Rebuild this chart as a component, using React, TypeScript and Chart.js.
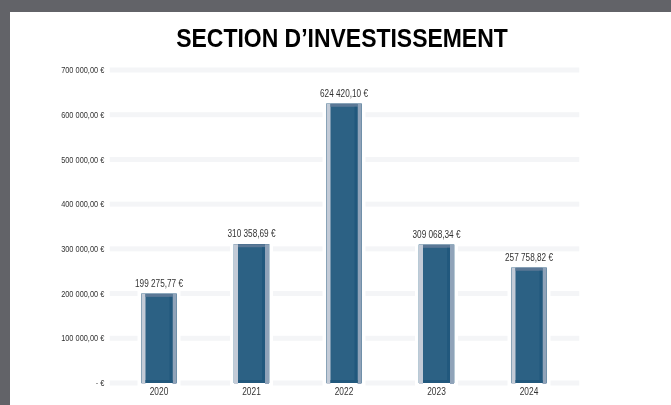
import React, { useEffect, useRef } from "react";
import { Chart, registerables } from "chart.js";

Chart.register(...registerables);

const categories = ["2020", "2021", "2022", "2023", "2024"];
const values = [199275.77, 310358.69, 624420.1, 309068.34, 257758.82];
const yMin = 0;
const yMax = 700000;
const yStep = 100000;
const titleText = "SECTION D\u2019INVESTISSEMENT";

const SANS = "'Liberation Sans', Arial, sans-serif";
const NARROW_SCALE = 0.82;

function fmtEuro(v: number): string {
  if (v === 0) return "- \u20ac";
  const [i, d] = v.toFixed(2).split(".");
  const grouped = i.replace(/\B(?=(\d{3})+(?!\d))/g, " ");
  return `${grouped},${d} \u20ac`;
}

function narrowText(
  ctx: CanvasRenderingContext2D,
  text: string,
  x: number,
  y: number,
  align: CanvasTextAlign,
  sx: number
) {
  ctx.save();
  ctx.translate(x, y);
  ctx.scale(sx, 1);
  ctx.textAlign = align;
  ctx.textBaseline = "alphabetic";
  ctx.fillText(text, 0, 0);
  ctx.restore();
}

const gridPlugin = {
  id: "gapGrid",
  beforeDatasetsDraw(chart: any) {
    const { ctx, chartArea, scales } = chart;
    const y = scales.y;
    const meta = chart.getDatasetMeta(0);
    const bars = meta.data.map((el: any) => el.getProps(["x", "y", "width", "base"], true));
    const left = chartArea.left - 3;
    const right = chartArea.right + 4;
    ctx.save();
    ctx.fillStyle = "#f4f5f7";
    for (let v = yMin; v <= yMax; v += yStep) {
      const py = y.getPixelForValue(v);
      let start = left;
      for (const b of bars) {
        if (b.y < py + 2) {
          const gl = b.x - b.width / 2 - 4;
          const gr = b.x + b.width / 2 + 4;
          if (gl > start) ctx.fillRect(start, py - 2.5, gl - start, 5);
          start = gr;
        }
      }
      if (right > start) ctx.fillRect(start, py - 2.5, right - start, 5);
    }
    ctx.restore();
  },
};

const haloPlugin = {
  id: "barHalo",
  afterDatasetsDraw(chart: any) {
    const { ctx } = chart;
    const meta = chart.getDatasetMeta(0);
    ctx.save();
    meta.data.forEach((el: any) => {
      const b = el.getProps(["x", "y", "width", "base"], true);
      const l = b.x - b.width / 2;
      const r = b.x + b.width / 2;
      const h = b.base - b.y;
      ctx.fillStyle = "#c3cbd7";
      ctx.fillRect(l, b.y, 4, h + 1);
      ctx.fillStyle = "#90a3b9";
      ctx.fillRect(r - 4, b.y, 4, h + 1);
      ctx.fillStyle = "#5b7896";
      ctx.fillRect(l + 4, b.y, b.width - 8, 3);
      ctx.fillStyle = "#21587d";
      ctx.fillRect(r - 7, b.y + 3, 3, h - 3);
      ctx.fillRect(l + 4, b.base - 3, b.width - 8, 3);
    });
    ctx.restore();
  },
};

const textPlugin = {
  id: "narrowTexts",
  afterDatasetsDraw(chart: any) {
    const { ctx, chartArea, scales } = chart;
    const x = scales.x;
    const y = scales.y;
    const meta = chart.getDatasetMeta(0);
    ctx.save();

    // title
    ctx.fillStyle = "#000000";
    ctx.font = `bold 25.5px ${SANS}`;
    narrowText(ctx, titleText, (chartArea.left + chartArea.right) / 2 - 2, 34.7, "center", 0.9);

    // y-axis labels
    ctx.fillStyle = "#333333";
    ctx.font = `9px ${SANS}`;
    for (let v = yMin; v <= yMax; v += yStep) {
      const py = y.getPixelForValue(v);
      narrowText(ctx, fmtEuro(v), chartArea.left - 8.5, py + 3.2, "right", NARROW_SCALE);
    }

    // x-axis labels
    ctx.font = `10.2px ${SANS}`;
    categories.forEach((c, i) => {
      narrowText(ctx, c, x.getPixelForValue(i), chartArea.bottom + 12, "center", NARROW_SCALE);
    });

    // value labels
    ctx.font = `10px ${SANS}`;
    meta.data.forEach((el: any, i: number) => {
      const p = el.getProps(["x", "y"], true);
      narrowText(ctx, fmtEuro(values[i]), p.x, p.y - 7, "center", NARROW_SCALE);
    });
    ctx.restore();
  },
};

export default function App() {
  const canvasRef = useRef<HTMLCanvasElement | null>(null);

  useEffect(() => {
    document.body.style.margin = "0";
    const canvas = canvasRef.current;
    if (!canvas) return;
    const chart = new Chart(canvas, {
      type: "bar",
      data: {
        labels: categories,
        datasets: [
          {
            data: values,
            backgroundColor: "#2c6184",
            borderWidth: 0,
            barThickness: 35,
          },
        ],
      },
      options: {
        responsive: false,
        animation: false,
        layout: { padding: { top: 58, left: 102.75, right: 95.75, bottom: 22 } },
        plugins: {
          legend: { display: false },
          tooltip: { enabled: false },
          title: { display: false },
        },
        scales: {
          x: { display: false },
          y: { display: false, min: yMin, max: yMax, ticks: { stepSize: yStep } },
        },
      },
      plugins: [gridPlugin, haloPlugin, textPlugin],
    });
    return () => chart.destroy();
  }, []);

  return (
    <div style={{ position: "relative", width: 671, height: 405, background: "#626368", overflow: "hidden" }}>
      <div style={{ position: "absolute", left: 10, top: 12, width: 661, height: 393, background: "#ffffff" }}>
        <canvas ref={canvasRef} width={661} height={393} style={{ display: "block" }} />
      </div>
    </div>
  );
}
